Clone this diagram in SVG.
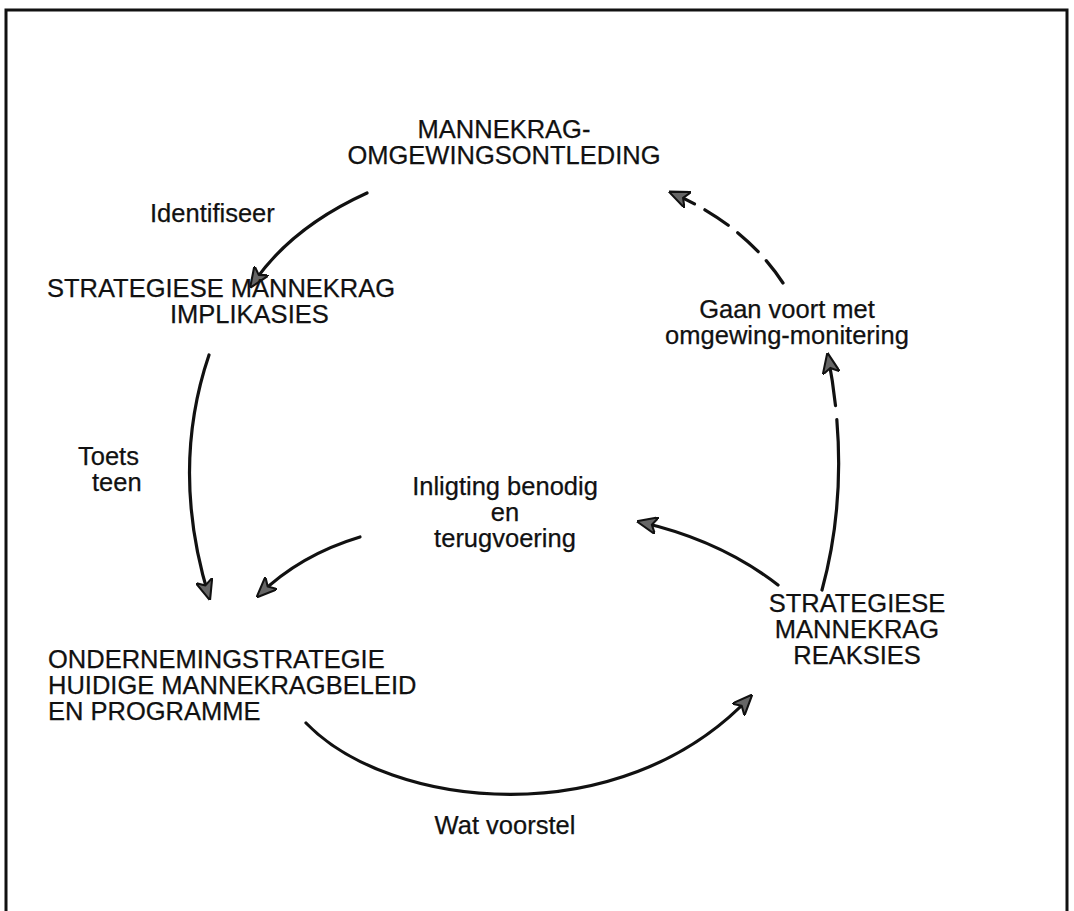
<svg xmlns="http://www.w3.org/2000/svg" width="1074" height="911" viewBox="0 0 1074 911">
  <style>
    .lbl { font-family: "Liberation Sans", Arial, Helvetica, sans-serif; font-size: 25.5px; fill: #111; stroke: #111; stroke-width: 0.25; }
    .mid { text-anchor: middle; }
    .edge { fill: none; stroke: #111; stroke-width: 3.2; stroke-linecap: round; }
  </style>
  <defs>
    <marker id="head" viewBox="0 0 12 10" refX="10" refY="5" markerWidth="6.5" markerHeight="5.5" orient="auto" markerUnits="strokeWidth">
      <path d="M0,0 L12,5 L0,10 L3,5 Z" fill="#666" stroke="#111" stroke-width="1.2" stroke-linejoin="round"/>
    </marker>
  </defs>

  <rect width="1074" height="911" fill="#fff"/>
  <!-- outer frame, open at the bottom edge -->
  <path d="M6,930 V10 H1067 V930" fill="none" stroke="#111" stroke-width="3"/>

  <!-- connectors -->
  <g id="connectors">
    <path class="edge" d="M367,193 Q290,228 252,285" marker-end="url(#head)"/>
    <path class="edge" d="M209,355 Q170,470 209,597" marker-end="url(#head)"/>
    <path class="edge" d="M360,537 Q300,555 259,595" marker-end="url(#head)"/>
    <path class="edge" d="M306,723 C390,810 620,835 750,697" marker-end="url(#head)"/>
    <path class="edge" d="M778,585 Q720,540 640,522" marker-end="url(#head)"/>
    <path class="edge" d="M822,590 Q852,480 828,356" stroke-dasharray="172 14 300" marker-end="url(#head)"/>
    <path class="edge" d="M783,283 Q745,225 672,193" stroke-dasharray="28 12" marker-end="url(#head)"/>
  </g>

  <g id="n-omgewing">
    <text class="lbl mid" x="504" y="138">MANNEKRAG-</text>
    <text class="lbl mid" x="504" y="164">OMGEWINGSONTLEDING</text>
  </g>
  <g id="n-implikasies">
    <text class="lbl" x="47" y="297">STRATEGIESE MANNEKRAG</text>
    <text class="lbl" x="170" y="323">IMPLIKASIES</text>
  </g>
  <g id="n-onderneming">
    <text class="lbl" x="48" y="668">ONDERNEMINGSTRATEGIE</text>
    <text class="lbl" x="48" y="694">HUIDIGE MANNEKRAGBELEID</text>
    <text class="lbl" x="48" y="720">EN PROGRAMME</text>
  </g>
  <g id="n-reaksies">
    <text class="lbl mid" x="857" y="612">STRATEGIESE</text>
    <text class="lbl mid" x="857" y="638">MANNEKRAG</text>
    <text class="lbl mid" x="857" y="664">REAKSIES</text>
  </g>
  <g id="edge-labels">
    <text class="lbl" x="150" y="222">Identifiseer</text>
    <text class="lbl" x="78" y="465">Toets</text>
    <text class="lbl" x="92" y="491">teen</text>
    <text class="lbl mid" x="505" y="495">Inligting benodig</text>
    <text class="lbl mid" x="505" y="521">en</text>
    <text class="lbl mid" x="505" y="547">terugvoering</text>
    <text class="lbl mid" x="787" y="318">Gaan voort met</text>
    <text class="lbl mid" x="787" y="344">omgewing-monitering</text>
    <text class="lbl mid" x="505" y="834">Wat voorstel</text>
  </g>
</svg>
